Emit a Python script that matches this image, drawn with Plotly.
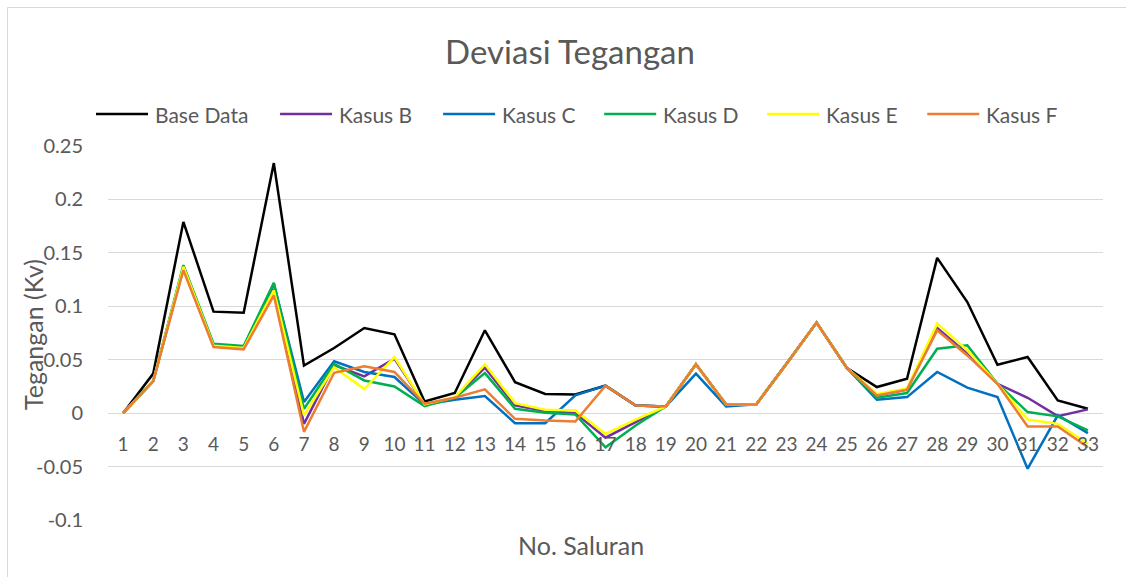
import plotly.graph_objects as go

saluran = list(range(1, 34))

base_data = [0, 0.037, 0.179, 0.095, 0.094, 0.234, 0.0445, 0.061, 0.0797, 0.0738, 0.011,
             0.0188, 0.0775, 0.029, 0.018, 0.0175, 0.0257, 0.0072, 0.0063, 0.0457, 0.0082,
             0.0082, 0.046, 0.0847, 0.0425, 0.0244, 0.0322, 0.1453, 0.104, 0.0453, 0.0525,
             0.0119, 0.0041]
kasus_b = [0, 0.030, 0.136, 0.063, 0.061, 0.116, -0.010, 0.045, 0.0344, 0.051, 0.0082,
           0.0144, 0.0425, 0.0072, 0.0019, 0.0, -0.023, -0.0084, 0.0063, 0.0457, 0.0082,
           0.0082, 0.046, 0.0847, 0.0425, 0.0166, 0.022, 0.0797, 0.0557, 0.0275, 0.0144,
           -0.0028, 0.0035]
kasus_c = [0, 0.030, 0.137, 0.064, 0.062, 0.121, 0.0105, 0.0486, 0.0385, 0.0338, 0.0082,
           0.0125, 0.016, -0.0094, -0.0094, 0.0166, 0.0257, 0.0072, 0.0063, 0.037, 0.0063,
           0.0082, 0.046, 0.0847, 0.0425, 0.0125, 0.015, 0.0385, 0.0238, 0.015, -0.052,
           -0.002, -0.0187]
kasus_d = [0, 0.030, 0.1385, 0.065, 0.0628, 0.1219, 0.004, 0.046, 0.0306, 0.025, 0.0066,
           0.0144, 0.0375, 0.0041, 0.0003, -0.0012, -0.032, -0.0115, 0.0063, 0.0457, 0.0082,
           0.0082, 0.046, 0.0847, 0.0425, 0.0144, 0.0188, 0.0603, 0.0635, 0.0275, 0.001,
           -0.003, -0.0162]
kasus_e = [0, 0.030, 0.137, 0.063, 0.061, 0.115, -0.002, 0.043, 0.0225, 0.0525, 0.0082,
           0.015, 0.0457, 0.0094, 0.0032, 0.0025, -0.0195, -0.006, 0.0063, 0.0457, 0.0082,
           0.0082, 0.046, 0.0847, 0.0425, 0.018, 0.023, 0.0838, 0.0588, 0.0275, -0.006,
           -0.01, -0.0287]
kasus_f = [0, 0.030, 0.1338, 0.0619, 0.0597, 0.1103, -0.0175, 0.0378, 0.0438, 0.0385, 0.0088,
           0.0144, 0.0222, -0.0053, -0.0069, -0.0078, 0.0257, 0.0072, 0.0063, 0.0457, 0.0082,
           0.0082, 0.046, 0.0847, 0.0425, 0.0166, 0.022, 0.0775, 0.054, 0.0275, -0.0125,
           -0.0125, -0.032]

series_names = ["Base Data", "Kasus B", "Kasus C", "Kasus D", "Kasus E", "Kasus F"]
series_values = [base_data, kasus_b, kasus_c, kasus_d, kasus_e, kasus_f]
series_colors = ["#000000", "#7030A0", "#0070C0", "#00B050", "#FFFF00", "#ED7D31"]

y_tickvals = [0.25, 0.2, 0.15, 0.1, 0.05, 0, -0.05, -0.1]
y_ticktext = ["0.25", "0.2", "0.15", "0.1", "0.05", "0", "-0.05", "-0.1"]

FONT = "Lato"
GREY = "#595959"

fig = go.Figure()
for name, vals, col in zip(series_names, series_values, series_colors):
    fig.add_trace(go.Scatter(x=saluran, y=vals, mode="lines", name=name, showlegend=False,
                             line=dict(color=col, width=2.5)))

# plot area in pixels
L, R, T, B = 108, 1102.7, 146, 520
W, H = 1126, 577
def px_x(p):
    return (p - L) / (R - L)
def px_y(p):
    return (B - p) / (B - T)

ymin, ymax = -0.1, 0.25
zero_pos = (0 - ymin) / (ymax - ymin)

# legend drawn as line samples + text (positions in pixels)
legend_starts = [96, 280, 443, 604, 767, 927]
legend_y = 114
shapes = [
    dict(type="rect", xref="paper", yref="paper", x0=px_x(7.5), x1=px_x(1140),
         y0=px_y(600), y1=px_y(7.5), line=dict(color="#D9D9D9", width=1),
         fillcolor="rgba(0,0,0,0)", layer="below"),
]
annotations = [
    dict(text="No. Saluran", xref="paper", yref="paper", x=px_x(581), y=px_y(545),
         xanchor="center", yanchor="middle", showarrow=False,
         font=dict(size=25, color=GREY, family=FONT)),
    dict(text="Tegangan (Kv)", xref="paper", yref="paper", x=px_x(33), y=px_y(334),
         xanchor="center", yanchor="middle", textangle=-90, showarrow=False,
         font=dict(size=25, color=GREY, family=FONT)),
]
for name, col, x0 in zip(series_names, series_colors, legend_starts):
    shapes.append(dict(type="line", xref="paper", yref="paper",
                       x0=px_x(x0), x1=px_x(x0 + 52), y0=px_y(legend_y), y1=px_y(legend_y),
                       line=dict(color=col, width=2.5)))
    annotations.append(dict(text=name, xref="paper", yref="paper", x=px_x(x0 + 57),
                            y=px_y(legend_y), xanchor="left", yanchor="middle",
                            showarrow=False, font=dict(size=21, color=GREY, family=FONT)))

fig.update_layout(
    width=W, height=H,
    margin=dict(l=L, r=W - R, t=T, b=H - B),
    paper_bgcolor="white", plot_bgcolor="white",
    font=dict(family=FONT, color=GREY),
    title=dict(text="Deviasi Tegangan", font=dict(size=33, color=GREY, family=FONT),
               xref="container", x=570 / W, xanchor="center",
               yref="container", y=1 - 52 / H, yanchor="middle"),
    showlegend=False,
    xaxis=dict(range=[0.5, 33.5], tickmode="array", tickvals=saluran,
               ticktext=[str(s) for s in saluran], showgrid=False, zeroline=False,
               showline=False, ticks="", anchor="free", position=zero_pos,
               tickfont=dict(size=19, color=GREY, family=FONT), ticklabelstandoff=18),
    yaxis=dict(range=[ymin, ymax], tickmode="array", tickvals=y_tickvals, ticktext=y_ticktext,
               showgrid=True, gridcolor="#D9D9D9", gridwidth=1, zeroline=False, showline=False,
               ticks="", tickfont=dict(size=20, color=GREY, family=FONT), ticklabelstandoff=24),
    annotations=annotations,
    shapes=shapes,
)

fig.write_html("out.html", config={"displayModeBar": False},
               post_script="document.body.style.margin='0px';document.body.style.overflow='hidden';")
